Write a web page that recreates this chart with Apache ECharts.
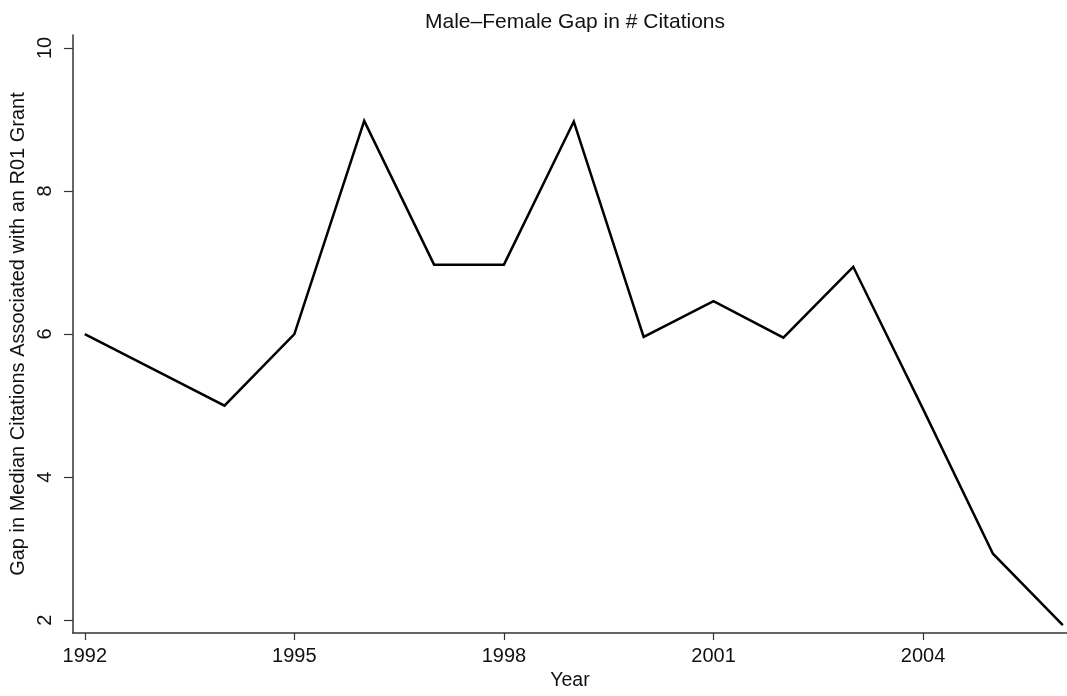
<!DOCTYPE html>
<html>
<head>
<meta charset="utf-8">
<title>Male-Female Gap in # Citations</title>
<script src="https://cdn.jsdelivr.net/npm/echarts@6/dist/echarts.min.js"></script>
<style>
  html, body { margin: 0; padding: 0; background: #fff; }
  #chart { width: 1067px; height: 696px; }
</style>
</head>
<body>
<div id="chart"></div>
<script>
// Median-citation gap (male minus female) per grant year
const years = [1992, 1993, 1994, 1995, 1996, 1997, 1998, 1999, 2000, 2001, 2002, 2003, 2004, 2005, 2006];
const gap   = [6, 5.5, 5, 6, 8.98, 6.97, 6.97, 8.97, 5.96, 6.46, 5.95, 6.94, 4.95, 2.93, 1.93];

const xTicks = [1992, 1995, 1998, 2001, 2004];
const yTicks = [2, 4, 6, 8, 10];

const font = '"Liberation Sans", Arial, Helvetica, sans-serif';
const ink = '#111';

const chart = echarts.init(document.getElementById('chart'), null, { renderer: 'canvas' });

chart.setOption({
  animation: false,
  backgroundColor: '#fff',
  title: {
    text: 'Male\u2013Female Gap in # Citations',
    left: 570,
    textAlign: 'center',
    top: 7,
    textStyle: { fontFamily: font, fontSize: 21, fontWeight: 'normal', color: ink }
  },
  grid: { left: 70, right: 0, top: 35, bottom: 60, containLabel: false },
  xAxis: {
    type: 'value',
    min: 1991.83,
    max: 2006.06,
    name: 'Year',
    nameLocation: 'middle',
    nameGap: 37,
    nameTextStyle: { fontFamily: font, fontSize: 19.5, color: ink },
    splitLine: { show: false },
    axisLine: { show: true, lineStyle: { color: '#333', width: 1.5 } },
    axisTick: { show: true, length: 7, customValues: xTicks, lineStyle: { color: '#333', width: 1.2 } },
    axisLabel: {
      customValues: xTicks,
      margin: 13,
      fontFamily: font, fontSize: 20, color: ink,
      formatter: v => String(v)
    }
  },
  yAxis: {
    type: 'value',
    min: 1.82,
    max: 10.18,
    name: 'Gap in Median Citations Associated with an R01 Grant',
    nameLocation: 'middle',
    nameGap: 42,
    nameTextStyle: { fontFamily: font, fontSize: 20, color: ink },
    splitLine: { show: false },
    axisLine: { show: true, lineStyle: { color: '#333', width: 1.5 } },
    axisTick: { show: true, length: 9, customValues: yTicks, lineStyle: { color: '#333', width: 1.2 } },
    axisLabel: {
      customValues: yTicks,
      rotate: 90,
      margin: 17,
      fontFamily: font, fontSize: 20, color: ink
    }
  },
  series: [{
    type: 'line',
    data: years.map((y, i) => [y, gap[i]]),
    showSymbol: false,
    lineStyle: { color: '#000', width: 2.5, join: 'miter' },
    silent: true
  }]
});
</script>
</body>
</html>
